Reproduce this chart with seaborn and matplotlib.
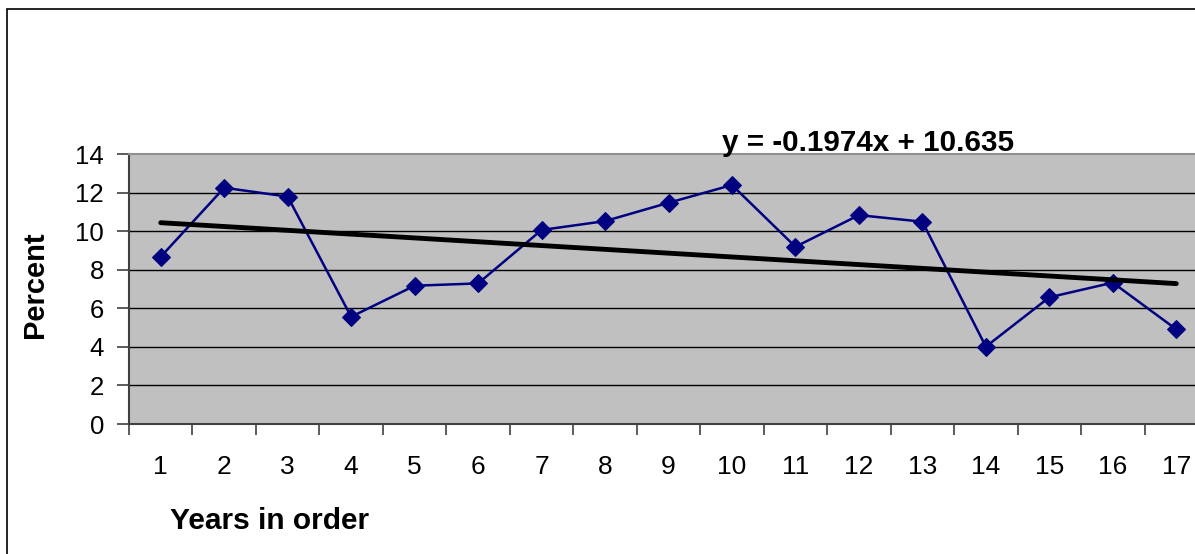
import matplotlib
matplotlib.use("Agg")
import matplotlib.pyplot as plt
import numpy as np
import pandas as pd
import seaborn as sns
from matplotlib.patches import Rectangle

years = list(range(1, 18))
percent = [8.67, 12.25, 11.79, 5.56, 7.17, 7.29, 10.06, 10.52, 11.47,
           12.39, 9.19, 10.83, 10.49, 4.01, 6.57, 7.33, 4.91]
trend_slope = -0.1974
trend_intercept = 10.635
y_ticks = [0, 2, 4, 6, 8, 10, 12, 14]

sns.set_style("white")
plt.rcParams["font.family"] = ["Liberation Sans", "DejaVu Sans"]
plt.rcParams["text.color"] = "black"
plt.rcParams["xtick.color"] = "black"
plt.rcParams["ytick.color"] = "black"

df = pd.DataFrame({"year": years, "percent": percent})

fig = plt.figure(figsize=(11.95, 5.54), dpi=100)
ax = fig.add_axes([129 / 1195, 1 - 424 / 554, 1079 / 1195, 270 / 554])
ax.set_facecolor("#C0C0C0")

# horizontal gridlines
for t in y_ticks[1:-1]:
    ax.axhline(t, color="black", lw=1, zorder=1)

sns.lineplot(data=df, x="year", y="percent", ax=ax, color="#000080",
             marker="D", markersize=9.5, markeredgecolor="#000080",
             linewidth=1.8, zorder=3)

# linear trend line from the fitted equation
xs = np.array([years[0], years[-1]])
ax.plot(xs, trend_slope * xs + trend_intercept, color="black", lw=3.5,
        solid_capstyle="round", zorder=4)

ax.set_xlim(0.5, 17.5)
ax.set_ylim(0, 14)
ax.set_yticks(y_ticks)
ax.set_yticklabels([str(t) for t in y_ticks], fontsize=18.5)
ax.set_xticks(years)
ax.set_xticklabels([str(y) for y in years], fontsize=19)
ax.set_xticks(np.arange(0.5, 18, 1), minor=True)
ax.tick_params(axis="x", which="major", bottom=True, length=0, pad=22)
ax.tick_params(axis="x", which="minor", bottom=True, length=8, width=1.2,
               color="#404040", direction="out")
ax.tick_params(axis="y", left=True, length=9, width=1.2, color="#404040",
               direction="out", pad=9)
ax.set_xlabel("")
ax.set_ylabel("")

for side in ["left", "bottom"]:
    ax.spines[side].set_color("#404040")
    ax.spines[side].set_linewidth(1.5)
ax.spines["top"].set_color("#909090")
ax.spines["top"].set_linewidth(1.5)
ax.spines["right"].set_visible(False)

fig.text(35 / 1195, 1 - 285 / 554, "Percent", rotation=90, fontsize=21,
         fontweight="bold", ha="center", va="center")
fig.text(170 / 1195, 1 - 521 / 554, "Years in order", fontsize=21.5,
         fontweight="bold", ha="left", va="center")
fig.text(722 / 1195, 1 - 143 / 554, "y = -0.1974x + 10.635", fontsize=21.3,
         fontweight="bold", ha="left", va="center")

# outer chart border (right and bottom edges cut off)
fig.patches.append(Rectangle((7 / 1195, -0.1), 1.2, 1 - 9 / 554 + 0.1,
                             transform=fig.transFigure, fill=False,
                             edgecolor="black", lw=1.2))

fig.savefig("out.png", dpi=100)
